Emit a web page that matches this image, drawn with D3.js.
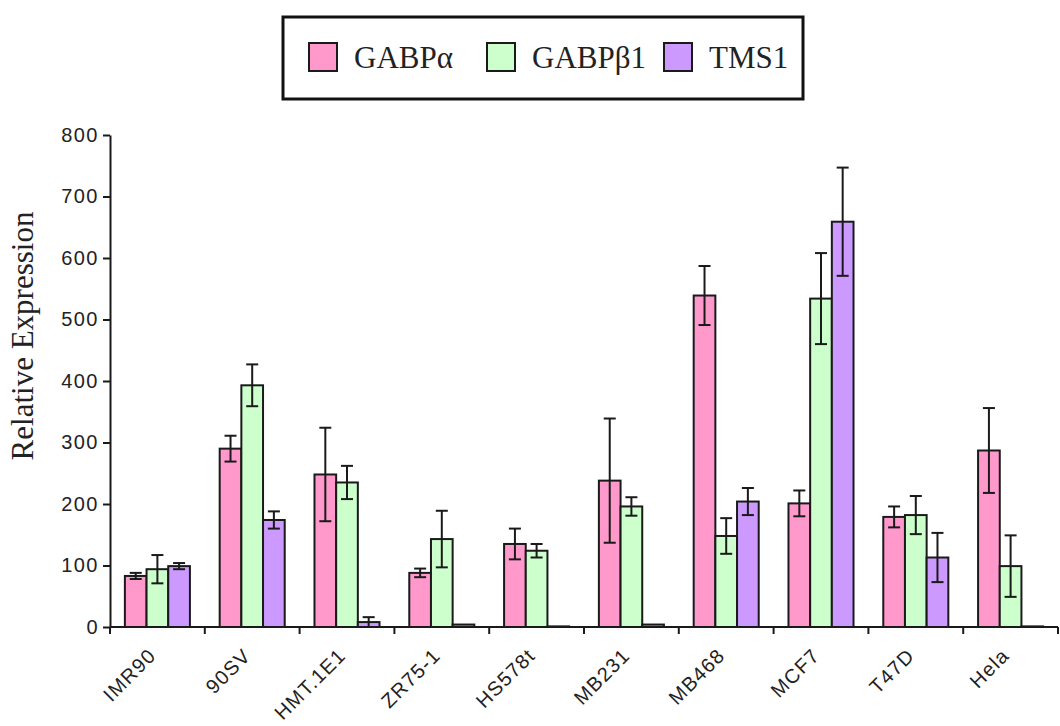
<!DOCTYPE html>
<html>
<head>
<meta charset="utf-8">
<script src="https://cdn.jsdelivr.net/npm/d3@7"></script>
<style>
  html, body { margin: 0; padding: 0; background: #fff; }
  svg { display: block; }
</style>
</head>
<body>
<svg id="chart" width="1060" height="726"></svg>
<script>
// Cell lines along the x axis
const cellLines = ["IMR90", "90SV", "HMT.1E1", "ZR75-1", "HS578t", "MB231", "MB468", "MCF7", "T47D", "Hela"];
const seriesNames = ["GABPα", "GABPβ1", "TMS1"];

// Relative expression per cell line, with error (±)
const gabpAlpha    = [83, 290, 248, 88, 135, 238, 539, 201, 179, 287];
const gabpAlphaErr = [5, 21, 76, 7, 25, 101, 48, 21, 17, 69];
const gabpBeta1    = [94, 393, 235, 143, 124, 196, 148, 534, 182, 99];
const gabpBeta1Err = [23, 34, 27, 46, 11, 15, 29, 74, 31, 50];
const tms1         = [99, 174, 8, 4, 1, 4, 204, 659, 113, 1];
const tms1Err      = [5, 14, 8, 0, 0, 0, 22, 88, 40, 0];

const yTicks = [0, 100, 200, 300, 400, 500, 600, 700, 800];
const colors = ["#ff99cc", "#ccffcc", "#cc99ff"];

const valuesBySeries = [gabpAlpha, gabpBeta1, tms1];
const errorsBySeries = [gabpAlphaErr, gabpBeta1Err, tms1Err];

const rows = [];
cellLines.forEach((c, i) => {
  seriesNames.forEach((s, j) => {
    rows.push({ cell: c, series: s, idx: j, value: valuesBySeries[j][i], err: errorsBySeries[j][i] });
  });
});

const svg = d3.select("#chart");

const x = d3.scaleBand().domain(cellLines).range([110, 1058]).padding(0);
const y = d3.scaleLinear().domain([0, 800]).range([627, 135]);
const groupWidth = x.bandwidth() * 0.686;
const xs = d3.scaleBand().domain(seriesNames).range([0, groupWidth]).padding(0);
const groupOffset = (x.bandwidth() - groupWidth) / 2;

const ink = "#1a1a1a";

// Bars
svg.append("g")
  .selectAll("rect")
  .data(rows)
  .join("rect")
  .attr("x", d => x(d.cell) + groupOffset + xs(d.series))
  .attr("y", d => y(d.value))
  .attr("width", xs.bandwidth())
  .attr("height", d => y(0) - y(d.value))
  .attr("fill", d => colors[d.idx])
  .attr("stroke", ink)
  .attr("stroke-width", 2);

// Error bars
const capHalf = 6;
const eb = svg.append("g").attr("stroke", ink).attr("stroke-width", 2).attr("fill", "none");
rows.filter(d => d.err > 0).forEach(d => {
  const cx = x(d.cell) + groupOffset + xs(d.series) + xs.bandwidth() / 2;
  const top = y(d.value + d.err);
  const bot = y(Math.max(0, d.value - d.err));
  eb.append("line").attr("x1", cx).attr("x2", cx).attr("y1", top).attr("y2", bot);
  eb.append("line").attr("x1", cx - capHalf).attr("x2", cx + capHalf).attr("y1", top).attr("y2", top);
  eb.append("line").attr("x1", cx - capHalf).attr("x2", cx + capHalf).attr("y1", bot).attr("y2", bot);
});

// Y axis
const yAxis = svg.append("g")
  .attr("transform", "translate(110,0)")
  .call(d3.axisLeft(y).tickValues(yTicks).tickSize(7).tickSizeOuter(0).tickPadding(4));
yAxis.select(".domain").attr("stroke", ink).attr("stroke-width", 2);
yAxis.selectAll(".tick line").attr("stroke", ink).attr("stroke-width", 2);
yAxis.selectAll(".tick text")
  .attr("font-family", "Liberation Sans, Arial, sans-serif")
  .attr("font-size", 20)
  .attr("letter-spacing", 1.5)
  .attr("fill", "#222");

// X axis with ticks at category boundaries
const boundaries = cellLines.map(c => x(c)).concat([x.range()[1]]);
const xAxis = svg.append("g").attr("transform", `translate(0,${y(0)})`);
xAxis.append("line")
  .attr("x1", x.range()[0]).attr("x2", x.range()[1])
  .attr("y1", 0).attr("y2", 0)
  .attr("stroke", ink).attr("stroke-width", 2);
xAxis.selectAll("line.bt")
  .data(boundaries)
  .join("line")
  .attr("class", "bt")
  .attr("x1", d => d).attr("x2", d => d)
  .attr("y1", 0).attr("y2", 7)
  .attr("stroke", ink).attr("stroke-width", 2);
xAxis.selectAll("text")
  .data(cellLines)
  .join("text")
  .attr("transform", d => `translate(${x(d) + x.bandwidth() / 2 - 10},${20}) rotate(-45)`)
  .attr("text-anchor", "end")
  .attr("dy", "0.7em")
  .attr("font-family", "Liberation Sans, Arial, sans-serif")
  .attr("font-size", 20)
  .attr("letter-spacing", 1.2)
  .attr("fill", "#222")
  .text(d => d);

// Y axis title
svg.append("text")
  .attr("transform", "translate(33,336) rotate(-90)")
  .attr("text-anchor", "middle")
  .attr("font-family", "Liberation Serif, Times New Roman, serif")
  .attr("font-size", 31)
  .attr("fill", "#222")
  .text("Relative Expression");

// Legend
const legend = svg.append("g");
legend.append("rect")
  .attr("x", 283).attr("y", 17).attr("width", 520).attr("height", 82)
  .attr("fill", "#fff").attr("stroke", "#111").attr("stroke-width", 3);
const legendX = [309, 487, 664];
seriesNames.forEach((s, j) => {
  legend.append("rect")
    .attr("x", legendX[j]).attr("y", 43).attr("width", 28).attr("height", 28)
    .attr("fill", colors[j]).attr("stroke", ink).attr("stroke-width", 2);
  legend.append("text")
    .attr("x", legendX[j] + 45).attr("y", 68)
    .attr("font-family", "Liberation Serif, Times New Roman, serif")
    .attr("font-size", 31)
    .attr("fill", "#222")
    .text(s);
});
</script>
</body>
</html>
